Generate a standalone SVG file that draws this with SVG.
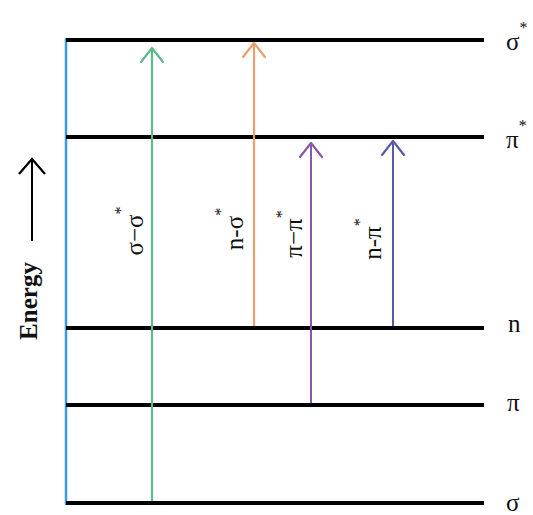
<svg xmlns="http://www.w3.org/2000/svg" width="533" height="515" viewBox="0 0 533 515">
  <style>
    .level { stroke: #000; stroke-width: 4; }
    .lbl { font-family: "Liberation Serif", serif; font-size: 25px; fill: #111; }
    .tr { font-family: "Liberation Serif", serif; font-size: 25px; fill: #111; }
    .sup { font-size: 16px; fill: #111; }
    .head { fill: none; stroke-width: 2.2; stroke-linecap: round; stroke-linejoin: round; }
  </style>
  <rect width="533" height="515" fill="#fff"/>

  <!-- energy axis -->
  <g id="axis">
    <line x1="66" y1="38" x2="66" y2="505" stroke="#3b9be0" stroke-width="2.5"/>
    <line x1="32" y1="241" x2="32" y2="160" stroke="#000" stroke-width="2"/>
    <path d="M19 174 L32 159 L45 174" fill="none" stroke="#000" stroke-width="2.2"/>
    <text class="lbl" transform="translate(37 301) rotate(-90)" text-anchor="middle" font-weight="bold" font-size="26">Energy</text>
  </g>

  <!-- energy levels -->
  <g id="level-sigma-star">
    <line class="level" x1="66" y1="40" x2="484" y2="40"/>
    <text class="lbl" x="506" y="50">σ<tspan class="sup" dy="-17">*</tspan></text>
  </g>
  <g id="level-pi-star">
    <line class="level" x1="66" y1="137" x2="484" y2="137"/>
    <text class="lbl" x="506" y="148">π<tspan class="sup" dy="-17">*</tspan></text>
  </g>
  <g id="level-n">
    <line class="level" x1="66" y1="328" x2="484" y2="328"/>
    <text class="lbl" x="508" y="332">n</text>
  </g>
  <g id="level-pi">
    <line class="level" x1="66" y1="405" x2="484" y2="405"/>
    <text class="lbl" x="507" y="411">π</text>
  </g>
  <g id="level-sigma">
    <line class="level" x1="66" y1="503" x2="484" y2="503"/>
    <text class="lbl" x="506" y="511">σ</text>
  </g>

  <!-- transitions -->
  <g id="transitions">
    <g stroke="#5dba8c">
      <line x1="152" y1="501" x2="152" y2="48" stroke-width="2.2"/>
      <path class="head" d="M141 62 L152 48 L163 62"/>
    </g>
    <g stroke="#eb9f6c">
      <line x1="254" y1="326" x2="254" y2="43" stroke-width="2.2"/>
      <path class="head" d="M243 57 L254 43 L265 57"/>
    </g>
    <g stroke="#8b58a8">
      <line x1="311" y1="403" x2="311" y2="143" stroke-width="2"/>
      <path class="head" d="M300 157 L311 143 L322 157"/>
    </g>
    <g stroke="#5a5aa6">
      <line x1="393" y1="326" x2="393" y2="141" stroke-width="2"/>
      <path class="head" d="M382 155 L393 141 L404 155"/>
    </g>
  </g>

  <!-- transition labels -->
  <g id="label-sigma-sigma">
    <text class="tr" transform="translate(143 231) rotate(-90)" text-anchor="middle">σ−σ<tspan class="sup" dy="-17">*</tspan></text>
  </g>
  <g id="label-n-sigma">
    <text class="tr" transform="translate(243 229) rotate(-90)" text-anchor="middle">n-σ<tspan class="sup" dy="-17">*</tspan></text>
  </g>
  <g id="label-pi-pi">
    <text class="tr" font-size="22" transform="translate(302 234) rotate(-90)" text-anchor="middle">π−π<tspan class="sup" dy="-15">*</tspan></text>
  </g>
  <g id="label-n-pi">
    <text class="tr" font-size="23" transform="translate(381 239) rotate(-90)" text-anchor="middle">n-π<tspan class="sup" dy="-16">*</tspan></text>
  </g>
</svg>
